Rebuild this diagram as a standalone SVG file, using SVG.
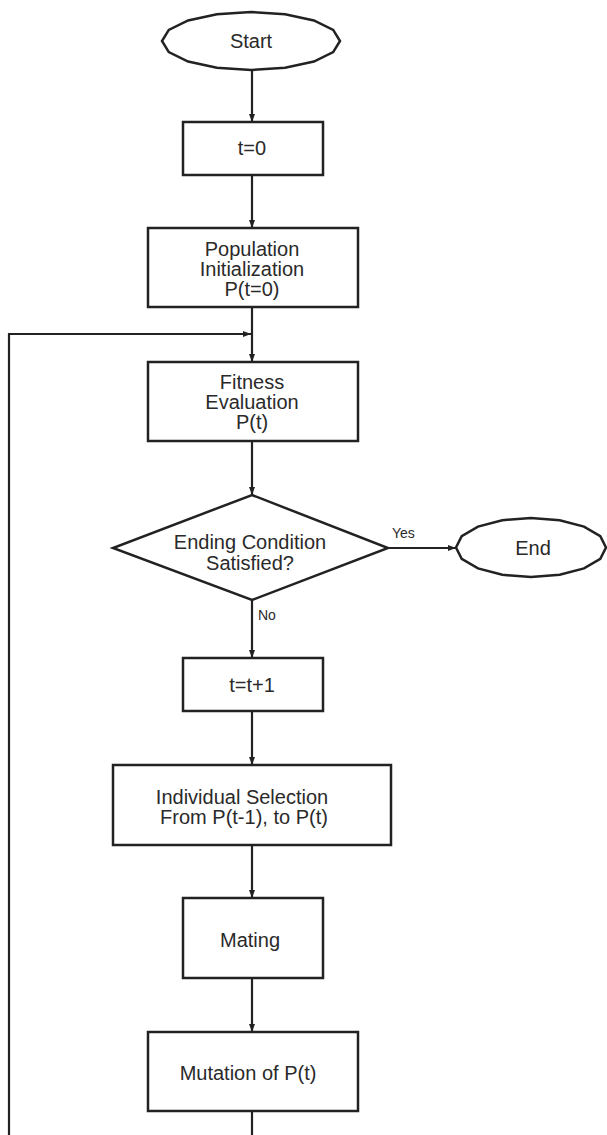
<svg xmlns="http://www.w3.org/2000/svg" width="607" height="1135" viewBox="0 0 607 1135">
<defs>
<style>
.shape{fill:#fff;stroke:#222;stroke-width:2.5}
.edge{fill:none;stroke:#222;stroke-width:2.2}
.t{font-family:"Liberation Sans",Arial,sans-serif;font-size:20px;fill:#2a2a2a;text-anchor:middle;dominant-baseline:central}
.s{font-family:"Liberation Sans",Arial,sans-serif;font-size:14px;fill:#2a2a2a;dominant-baseline:central}
</style>
<marker id="arr" markerUnits="userSpaceOnUse" markerWidth="9" markerHeight="7" refX="8" refY="3" orient="auto">
<path d="M0,0 L8,3 L0,6 z" fill="#222"/>
</marker>
</defs>
<rect width="607" height="1135" fill="#fff"/>
<g id="connectors">
<line class="edge" x1="252" y1="70" x2="252" y2="122" marker-end="url(#arr)"/>
<line class="edge" x1="252" y1="175" x2="252" y2="228" marker-end="url(#arr)"/>
<line class="edge" x1="252" y1="307" x2="252" y2="362" marker-end="url(#arr)"/>
<polyline class="edge" points="252,1111 252,1135"/>
<polyline class="edge" points="9,1135 9,334 251,334" marker-end="url(#arr)"/>
<line class="edge" x1="252" y1="441" x2="252" y2="495" marker-end="url(#arr)"/>
<line class="edge" x1="388" y1="548" x2="456" y2="548" marker-end="url(#arr)"/>
<line class="edge" x1="252" y1="600" x2="252" y2="658" marker-end="url(#arr)"/>
<line class="edge" x1="252" y1="711" x2="252" y2="765" marker-end="url(#arr)"/>
<line class="edge" x1="252" y1="845" x2="252" y2="898" marker-end="url(#arr)"/>
<line class="edge" x1="252" y1="978" x2="252" y2="1032" marker-end="url(#arr)"/>
<text class="s" x="392" y="533">Yes</text>
<text class="s" x="258" y="615">No</text>
</g>
<g id="start">
<polygon class="shape" points="340,41 333.2,52.1 313.9,61.5 285.1,67.8 251,70 216.9,67.8 188.1,61.5 168.8,52.1 162,41 168.8,29.9 188.1,20.5 216.9,14.2 251,12 285.1,14.2 313.9,20.5 333.2,29.9"/>
<text class="t" x="251" y="41">Start</text>
</g>
<g id="t0">
<rect class="shape" x="183" y="122" width="140" height="53"/>
<text class="t" x="252" y="148">t=0</text>
</g>
<g id="init">
<rect class="shape" x="148" y="228" width="210" height="79"/>
<text class="t" x="252" y="249">Population</text>
<text class="t" x="252" y="269">Initialization</text>
<text class="t" x="252" y="289">P(t=0)</text>
</g>
<g id="fitness">
<rect class="shape" x="148" y="362" width="210" height="79"/>
<text class="t" x="252" y="382">Fitness</text>
<text class="t" x="252" y="402">Evaluation</text>
<text class="t" x="252" y="422">P(t)</text>
</g>
<g id="condition">
<polygon class="shape" points="252,495 388,548 252,600 113,548"/>
<text class="t" x="250" y="542">Ending Condition</text>
<text class="t" x="250" y="563">Satisfied?</text>
</g>
<g id="end">
<polygon class="shape" points="606,547.5 600.3,558.8 584,568.4 559.7,574.8 531,577 502.3,574.8 478,568.4 461.7,558.8 456,547.5 461.7,536.2 478,526.6 502.3,520.2 531,518 559.7,520.2 584,526.6 600.3,536.2"/>
<text class="t" x="533" y="548">End</text>
</g>
<g id="increment">
<rect class="shape" x="183" y="658" width="140" height="53"/>
<text class="t" x="252" y="685">t=t+1</text>
</g>
<g id="selection">
<rect class="shape" x="113" y="765" width="278" height="80"/>
<text class="t" x="242" y="797">Individual Selection</text>
<text class="t" x="244" y="817">From P(t-1), to P(t)</text>
</g>
<g id="mating">
<rect class="shape" x="183" y="898" width="140" height="80"/>
<text class="t" x="250" y="940">Mating</text>
</g>
<g id="mutation">
<rect class="shape" x="148" y="1032" width="210" height="79"/>
<text class="t" x="248" y="1073">Mutation of P(t)</text>
</g>
</svg>
